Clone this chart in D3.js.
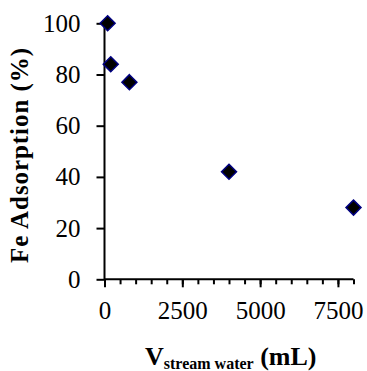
<!DOCTYPE html>
<html><head><meta charset="utf-8">
<script src="https://cdn.jsdelivr.net/npm/d3@7"></script>
<style>body{margin:0;background:#fff}svg{display:block}text{font-family:"Liberation Serif";}</style>
</head><body>
<script>
const volumes = [100, 200, 800, 4000, 8000];
const adsorption = [100, 84, 77, 42, 28];
const xMajorTicks = [0, 2500, 5000, 7500];
const yTicks = [0, 20, 40, 60, 80, 100];

const W = 367, H = 371;
const svg = d3.select("body").append("svg").attr("width", W).attr("height", H)
  .style("font-family", "Liberation Serif");
const x = d3.scaleLinear().domain([0, 8000]).range([104.5, 353.5]);
const y = d3.scaleLinear().domain([0, 100]).range([279.3, 23.3]);
const font = "Liberation Serif";

// minor x ticks
const minor = d3.range(0, 8001, 500);
const xAxisMinor = d3.axisBottom(x).tickValues(minor).tickSize(5).tickFormat("");
const gxm = svg.append("g").attr("transform", `translate(0,${y(0)})`).call(xAxisMinor);
gxm.select(".domain").remove();
gxm.selectAll("line").attr("stroke", "#000").attr("stroke-width", 2);

const xAxis = d3.axisBottom(x).tickValues(xMajorTicks).tickSize(8).tickPadding(14).tickFormat(d3.format("d"));
const gx = svg.append("g").attr("transform", `translate(0,${y(0)})`).call(xAxis)
  .attr("font-family", font).attr("font-size", 25);
gx.select(".domain").attr("d", `M${x(0)},0H${x(8000)}`).attr("stroke", "#000").attr("stroke-width", 2);
gx.selectAll("line").attr("stroke", "#000").attr("stroke-width", 2);
gx.selectAll("text").style("font-family", font).attr("font-size", 25).attr("fill", "#000");

const yAxis = d3.axisLeft(y).tickValues(yTicks).tickSize(8).tickPadding(16);
const gy = svg.append("g").attr("transform", `translate(${x(0)},0)`).call(yAxis)
  .attr("font-family", font).attr("font-size", 25);
gy.select(".domain").attr("d", `M0,${y(0)}V${y(100)}`).attr("stroke", "#000").attr("stroke-width", 2);
gy.selectAll("line").attr("stroke", "#000").attr("stroke-width", 2);
gy.selectAll("text").style("font-family", font).attr("font-size", 25).attr("fill", "#000");

// markers
svg.append("g").selectAll("path").data(volumes.map((v, i) => [v, adsorption[i]]))
  .join("path")
  .attr("d", "M0,-7.5L7.5,0L0,7.5L-7.5,0Z")
  .attr("transform", d => `translate(${x(d[0])},${y(d[1])})`)
  .attr("fill", "#000").attr("stroke", "#000080").attr("stroke-width", 1.5);

// y title
svg.append("text")
  .attr("transform", "translate(28,155.5) rotate(-90)")
  .attr("text-anchor", "middle")
  .style("font-family", font).attr("font-weight", "bold").attr("font-size", 25)
  .attr("textLength", 215).attr("lengthAdjust", "spacing")
  .text("Fe Adsorption (%)");

// x title
const t = svg.append("text").attr("x", 145).attr("y", 365)
  .style("font-family", font).attr("font-weight", "bold").attr("font-size", 26);
t.append("tspan").text("V");
t.append("tspan").attr("font-size", 16).attr("dy", 4).text("stream water");
t.append("tspan").attr("dy", -4).text(" (mL)");
</script>
</body></html>
